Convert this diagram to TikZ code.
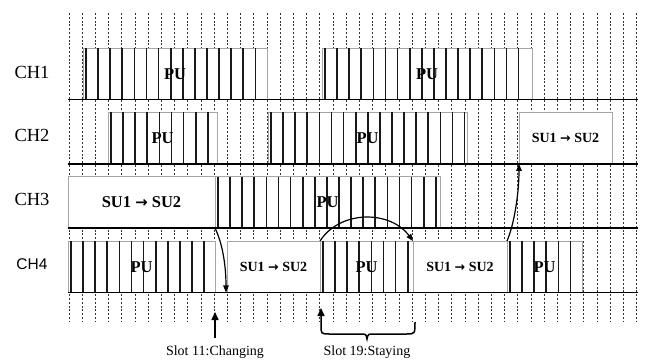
\documentclass[tikz,border=0pt]{standalone}
\usepackage{fontspec}
\setmainfont{Liberation Serif}
\setsansfont{Liberation Sans}
\newfontfamily\arrowfont{DejaVu Sans}
\usetikzlibrary{arrows.meta}

\newcommand\suto{SU1 {\arrowfont\bfseries\scalebox{0.9}{→}} SU2}

\tikzset{
  slotline/.style={black!80, line width=0.7pt, dash pattern=on 2pt off 1.8pt},
  chline/.style={black, line width=1.7pt},
  blockbox/.style={draw=black!35, line width=0.6pt, fill=white, inner sep=0pt, outer sep=0pt, anchor=north west, minimum height=51.5pt},
  pubar/.style={black!90, line width=1.7pt},
  pulbl/.style={font=\bfseries\fontsize{16.5}{18}\selectfont},
  chlbl/.style={font=\fontsize{18.5}{20}\selectfont},
  slotlbl/.style={font=\fontsize{14}{16}\selectfont},
  flow/.style={line width=1.2pt, -{Triangle[length=7pt,width=5.5pt]}},
  upflow/.style={line width=1.5pt, -{Triangle[length=8pt,width=7pt]}}
}

\begin{document}
\begin{tikzpicture}[x=1pt, y=-1pt]
    \useasboundingbox (0,0) rectangle (645,362);

    % Slot grid
    \foreach \i in {0,...,43} \draw[slotline] ({69+13.2*\i},13) -- ({69+13.2*\i},322);

    % Channel names
    \node[chlbl] (ch1) at (32,72) {CH1};
    \node[chlbl] (ch2) at (32,135) {CH2};
    \node[chlbl] (ch3) at (32,199) {CH3};
    \node[chlbl, font=\sffamily\fontsize{15.5}{17}\selectfont] (ch4) at (32,264) {CH4};

    % PU blocks: left/right/channel
    \foreach \a/\c/\r in {83/267/1, 322/532/1, 108/217/2, 268/467/2,
                          215/440/3, 68/215/4, 320/413/4, 507/582/4} {
        \pgfmathsetmacro\t{48+64.33*(\r-1)}
        \pgfmathtruncatemacro\n{(\c-\a-5)/12.1}
        \node[blockbox, minimum width={\c-\a}] (pu\r-\a) at (\a,\t) {};
        \foreach \k in {0,...,\n} \draw[pubar] ({\a+3+12.1*\k},\t) -- ++(0,51.5);
        \node[pulbl] (pu\r-\a-txt) at (pu\r-\a.center) {PU};
    }

    % SU blocks: left/right/channel/font size
    \foreach \a/\c/\r/\s in {519/612/2/14, 68/215/3/16.5, 227/320/4/14, 413/507/4/14} {
        \pgfmathsetmacro\t{48+64.33*(\r-1)}
        \node[blockbox, minimum width={\c-\a}] (su\r-\a) at (\a,\t) {};
        \node[font=\bfseries\fontsize{\s}{\s}\selectfont] (su\r-\a-txt) at (su\r-\a.center) {\suto};
    }

    % Channel lines
    \foreach \r in {1,...,4} \draw[chline] (68,{99.5+64.33*(\r-1)}) -- (638,{99.5+64.33*(\r-1)});

    % Channel hops
    \draw[flow] (pu3-215.south west) .. controls +(8,16) and +(0,-25) .. ([xshift=-1pt]su4-227.south west);
    \draw[flow] (pu4-320.north west) .. controls +(20,-31) and +(-23,-31) .. (pu4-320.north east);
    \draw[flow] (pu4-507.north west) .. controls +(7,-16) and +(0,30) .. (su2-519.south west);

    % Slot marks
    \coordinate (s11) at (215,338);
    \coordinate (s11tip) at (215,312);
    \draw[upflow] (s11) -- (s11tip);
    \node[slotlbl] (lab11) at (215,352) {Slot 11:Changing};

    \coordinate (s19r) at (415,322);
    \coordinate (s19tip) at (321,308);
    \draw[upflow] (s19r) .. controls (415,334) .. (406,334) -- (374,334)
        .. controls (368,334) .. (367,339) .. controls (366,334) .. (360,334)
        -- (330,334) .. controls (321,334) .. (321,325) -- (s19tip);
    \node[slotlbl] (lab19) at (367,352) {Slot 19:Staying};
\end{tikzpicture}
\end{document}
